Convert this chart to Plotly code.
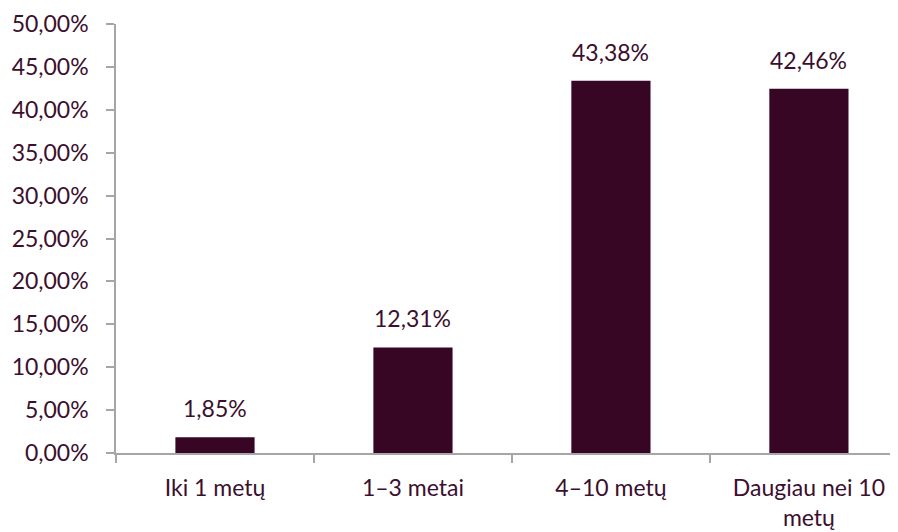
import plotly.graph_objects as go

categories = ["Iki 1 metų", "1–3 metai", "4–10 metų", "Daugiau nei 10<br>metų"]
values = [1.85, 12.31, 43.38, 42.46]
y_ticks = [0, 5, 10, 15, 20, 25, 30, 35, 40, 45, 50]

BAR = "#380625"
TXT = "#3b0f2e"
AX = "#a6a6a6"
FONT = "Lato"
FS = 23

labels = [f"{v:.2f}".replace(".", ",") + "%" for v in values]
tick_text = [f"{t:.2f}".replace(".", ",") + "%" for t in y_ticks]

fig = go.Figure(go.Bar(x=categories, y=values, marker=dict(color=BAR, line=dict(width=0)),
                       width=0.4, hoverinfo="skip"))

for c, v, t in zip(categories, values, labels):
    fig.add_annotation(x=c, y=v, text=t, showarrow=False, yanchor="bottom",
                       yshift=13, font=dict(family=FONT, size=FS, color=TXT))

fig.update_layout(
    width=890, height=524,
    margin=dict(l=108, r=0, t=16, b=79),
    paper_bgcolor="white", plot_bgcolor="white",
    showlegend=False,
    font=dict(family=FONT, size=FS, color=TXT),
    bargap=0.6,
)
fig.update_xaxes(range=[-0.5, 3.45], showline=True, linecolor=AX, linewidth=1.5,
                 ticks="outside", tickson="boundaries", ticklen=8, tickcolor=AX,
                 tickwidth=1.5, showgrid=False, zeroline=False, automargin=False,
                 tickfont=dict(family=FONT, size=FS, color=TXT), ticklabelstandoff=14)
fig.update_yaxes(range=[0, 50], tickvals=y_ticks, ticktext=tick_text, showline=True,
                 linecolor=AX, linewidth=1.5, ticks="outside", ticklen=8, tickcolor=AX,
                 tickwidth=1.5, showgrid=False, zeroline=False, automargin=False,
                 tickfont=dict(family=FONT, size=FS, color=TXT), ticklabelstandoff=13)

fig.write_html("out.html")
